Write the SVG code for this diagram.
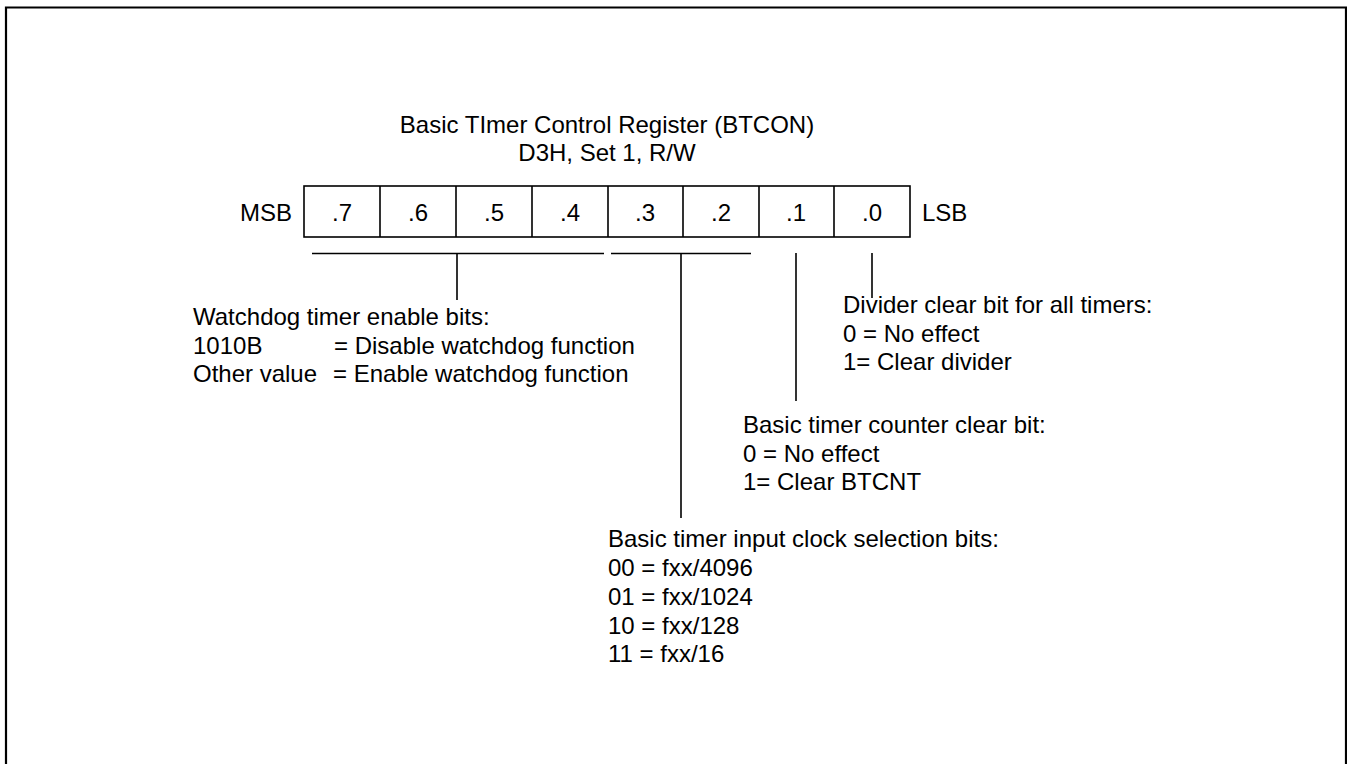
<svg xmlns="http://www.w3.org/2000/svg" width="1347" height="764" viewBox="0 0 1347 764">
<style>
text{font-family:"Liberation Sans",Arial,sans-serif;font-size:24px;fill:#000}
.c{text-anchor:middle}
.ln{stroke:#000;stroke-width:1.6;fill:none}
.frame{stroke:#000;stroke-width:2.2;fill:none}
</style>
<rect width="1347" height="764" fill="#fff"/>
<path class="frame" d="M6,764 V7.5 H1346 V764"/>
<g id="title">
<text class="c" x="607" y="133">Basic TImer Control Register (BTCON)</text>
<text class="c" x="607" y="161">D3H, Set 1, R/W</text>
</g>
<g id="register">
<rect class="ln" x="304" y="186" width="606" height="51"/>
<path class="ln" d="M380,186V237M456,186V237M532,186V237M608,186V237M683,186V237M759,186V237M834,186V237"/>
<text x="292" y="221" text-anchor="end">MSB</text>
<text x="922" y="221">LSB</text>
<text class="c" x="342" y="221">.7</text>
<text class="c" x="418" y="221">.6</text>
<text class="c" x="494" y="221">.5</text>
<text class="c" x="570" y="221">.4</text>
<text class="c" x="645" y="221">.3</text>
<text class="c" x="721" y="221">.2</text>
<text class="c" x="796" y="221">.1</text>
<text class="c" x="872" y="221">.0</text>
</g>
<g id="connectors">
<path class="ln" d="M312,253.5H604M457,253.5V300"/>
<path class="ln" d="M611,253.5H751M681,253.5V518"/>
<path class="ln" d="M796,253V401"/>
<path class="ln" d="M872,253V298"/>
</g>
<g id="watchdog">
<text x="193" y="325">Watchdog timer enable bits:</text>
<text x="193" y="353.5">1010B</text>
<text x="334" y="353.5">= Disable watchdog function</text>
<text x="193" y="382">Other value</text>
<text x="333" y="382">= Enable watchdog function</text>
</g>
<g id="divider">
<text x="843" y="313">Divider clear bit for all timers:</text>
<text x="843" y="341.5">0 = No effect</text>
<text x="843" y="370">1= Clear divider</text>
</g>
<g id="counter">
<text x="743" y="433">Basic timer counter clear bit:</text>
<text x="743" y="462">0 = No effect</text>
<text x="743" y="490">1= Clear BTCNT</text>
</g>
<g id="clock">
<text x="608" y="547">Basic timer input clock selection bits:</text>
<text x="608" y="576">00 = fxx/4096</text>
<text x="608" y="605">01 = fxx/1024</text>
<text x="608" y="634">10 = fxx/128</text>
<text x="608" y="662">11 = fxx/16</text>
</g>
</svg>
